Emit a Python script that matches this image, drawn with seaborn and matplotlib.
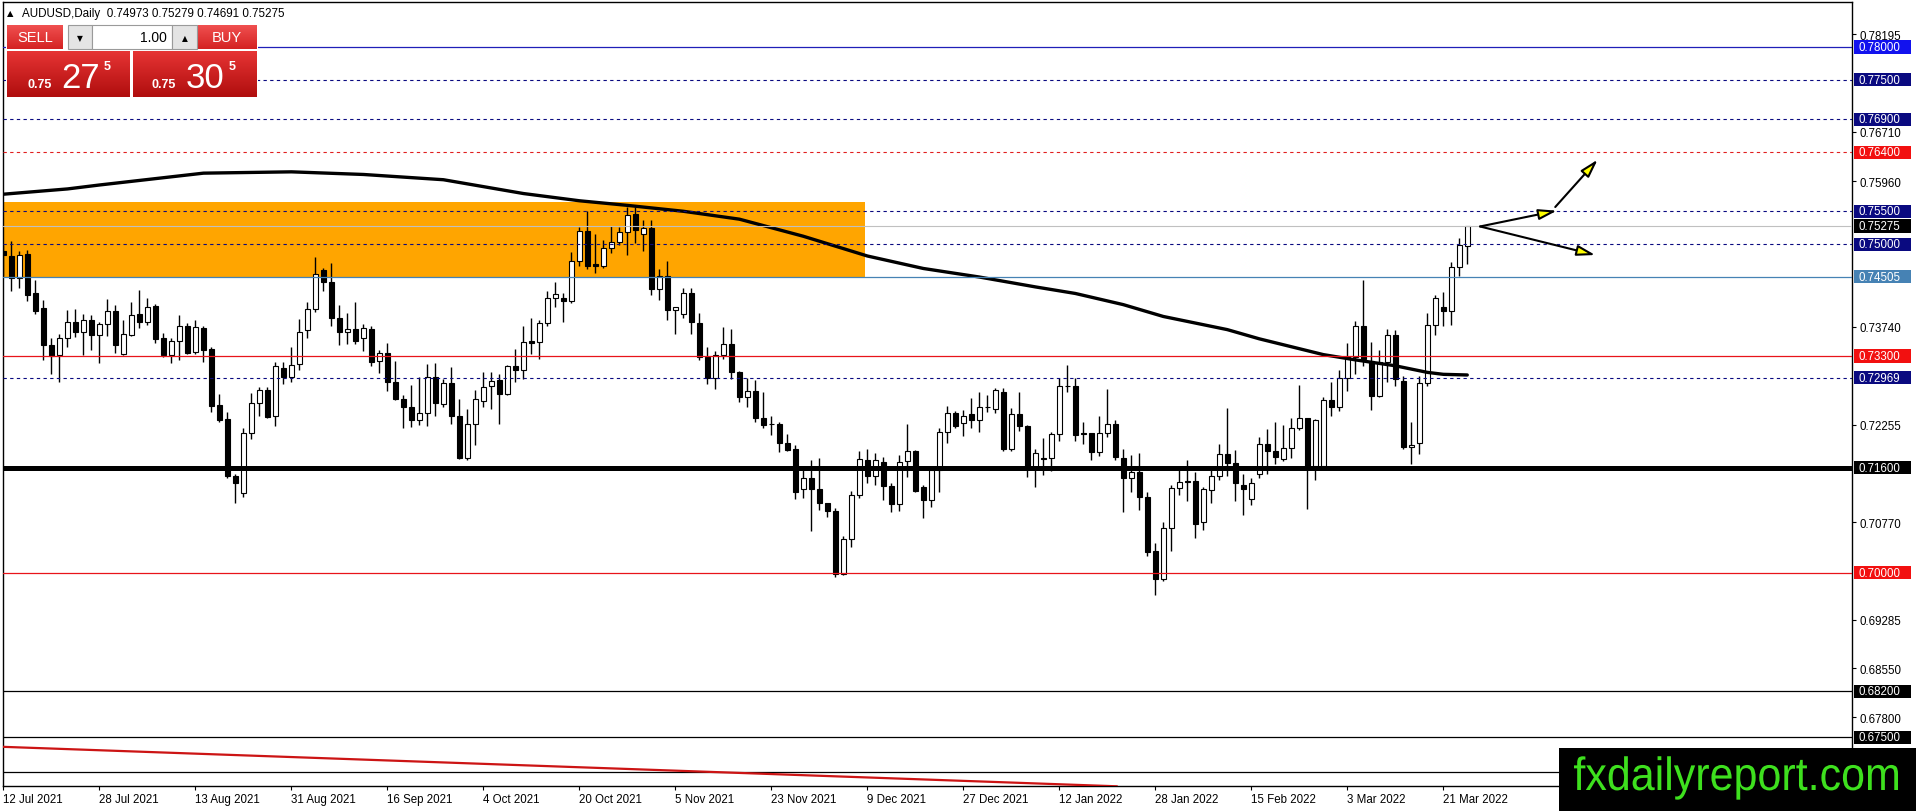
import matplotlib
matplotlib.use('Agg')
import matplotlib.pyplot as plt
import seaborn as sns
import numpy as np
import pandas as pd
from matplotlib.patches import Rectangle, PathPatch
from matplotlib import transforms, font_manager
from matplotlib.colors import LinearSegmentedColormap
from matplotlib.textpath import TextPath
from matplotlib.font_manager import FontProperties

# ---------------- data ----------------
opens = [0.7490,0.7482,0.7448,0.7485,0.7425,0.7403,0.7347,0.7331,0.7358,0.7382,
         0.7367,0.7384,0.7362,0.7378,0.7398,0.7333,0.7362,0.7393,0.7381,0.7406,
         0.7358,0.7332,0.7352,0.7376,0.7336,0.7372,0.7340,0.7255,0.7234,0.7147,
         0.7122,0.7212,0.7259,0.7278,0.7238,0.7311,0.7298,0.7317,0.7369,0.7401,
         0.7461,0.7442,0.7387,0.7367,0.7371,0.7357,0.7371,0.7322,0.7334,0.7291,
         0.7264,0.7253,0.7233,0.7243,0.7298,0.7257,0.7289,0.7239,0.7175,0.7227,
         0.7261,0.7284,0.7293,0.7272,0.7314,0.7308,0.7353,0.7351,0.7380,0.7418,
         0.7418,0.7414,0.7474,0.7520,0.7470,0.7467,0.7494,0.7504,0.7518,0.7546,
         0.7516,0.7525,0.7432,0.7451,0.7400,0.7393,0.7426,0.7380,0.7329,0.7297,
         0.7331,0.7348,0.7305,0.7267,0.7277,0.7235,0.7227,0.7227,0.7197,0.7189,
         0.7128,0.7144,0.7128,0.7106,0.7094,0.6998,0.7051,0.7119,0.7171,0.7148,
         0.7168,0.7132,0.7105,0.7170,0.7185,0.7130,0.7111,0.7156,0.7214,0.7243,
         0.7228,0.7241,0.7232,0.7253,0.7250,0.7275,0.7189,0.7241,0.7223,0.7161,
         0.7174,0.7174,0.7211,0.7285,0.7284,0.7212,0.7212,0.7184,0.7212,0.7227,
         0.7174,0.7145,0.7153,0.7115,0.7033,0.6991,0.7068,0.7129,0.7139,0.7139,
         0.7077,0.7126,0.7147,0.7181,0.7167,0.7134,0.7112,0.7151,0.7196,0.7186,
         0.7173,0.7190,0.7220,0.7235,0.7163,0.7162,0.7263,0.7252,0.7297,0.7329,
         0.7375,0.7323,0.7269,0.7321,0.7362,0.7292,0.7191,0.7197,0.7289,0.7377,
         0.7405,0.7398,0.7466,0.74973]
highs = [0.7498,0.7505,0.7490,0.7491,0.7445,0.7415,0.7357,0.7364,0.7400,0.7402,
         0.7393,0.7392,0.7382,0.7417,0.7408,0.7385,0.7412,0.7430,0.7418,0.7409,
         0.7365,0.7358,0.7392,0.7380,0.7384,0.7375,0.7343,0.7272,0.7244,0.7150,
         0.7221,0.7273,0.7283,0.7282,0.7320,0.7320,0.7343,0.7386,0.7412,0.7481,
         0.7464,0.7471,0.7407,0.7396,0.7412,0.7378,0.7376,0.7339,0.7349,0.7323,
         0.7270,0.7286,0.7298,0.7318,0.7319,0.7295,0.7313,0.7264,0.7249,0.7278,
         0.7305,0.7305,0.7303,0.7316,0.7341,0.7375,0.7387,0.7385,0.7429,0.7442,
         0.7425,0.7488,0.7526,0.7550,0.7515,0.7507,0.7528,0.7526,0.7557,0.7557,
         0.7536,0.7536,0.7462,0.7474,0.7405,0.7434,0.7434,0.7396,0.7343,0.7337,
         0.7374,0.7371,0.7307,0.7296,0.7293,0.7275,0.7238,0.7229,0.7211,0.7194,
         0.7161,0.7172,0.7174,0.7107,0.7099,0.7056,0.7125,0.7186,0.7188,0.7183,
         0.7177,0.7137,0.7179,0.7226,0.7187,0.7134,0.7161,0.7221,0.7254,0.7246,
         0.7247,0.7266,0.7275,0.7271,0.7281,0.7281,0.7251,0.7275,0.7225,0.7189,
         0.7205,0.7215,0.7296,0.7316,0.7296,0.7230,0.7213,0.7239,0.7280,0.7232,
         0.7189,0.7179,0.7183,0.7123,0.7046,0.7078,0.7133,0.7161,0.7171,0.7154,
         0.7130,0.7163,0.7196,0.7251,0.7187,0.7151,0.7144,0.7206,0.7219,0.7229,
         0.7225,0.7235,0.7286,0.7236,0.7234,0.7267,0.7291,0.7308,0.7349,0.7383,
         0.7445,0.7351,0.7339,0.7371,0.7370,0.7300,0.7229,0.7300,0.7395,0.7422,
         0.7427,0.7473,0.7510,0.75279]
lows = [0.7451,0.7429,0.7433,0.7413,0.7393,0.7324,0.7302,0.7291,0.7344,0.7359,
        0.7332,0.7339,0.7319,0.7361,0.7334,0.7331,0.7360,0.7372,0.7377,0.7349,
        0.7328,0.7319,0.7324,0.7333,0.7333,0.7321,0.7244,0.7230,0.7144,0.7107,
        0.7115,0.7204,0.7239,0.7236,0.7224,0.7287,0.7290,0.7309,0.7358,0.7397,
        0.7429,0.7376,0.7347,0.7348,0.7348,0.7338,0.7314,0.7304,0.7276,0.7263,
        0.7221,0.7222,0.7225,0.7224,0.7238,0.7252,0.7227,0.7173,0.7172,0.7194,
        0.7253,0.7250,0.7227,0.7270,0.7290,0.7295,0.7333,0.7326,0.7375,0.7405,
        0.7381,0.7410,0.7467,0.7462,0.7456,0.7464,0.7487,0.7498,0.7483,0.7501,
        0.7489,0.7422,0.7415,0.7385,0.7363,0.7388,0.7363,0.7324,0.7288,0.7280,
        0.7325,0.7295,0.7260,0.7252,0.7229,0.7221,0.7209,0.7184,0.7186,0.7113,
        0.7114,0.7064,0.7096,0.7085,0.6993,0.6996,0.7040,0.7114,0.7137,0.7134,
        0.7111,0.7092,0.7094,0.7146,0.7123,0.7083,0.7100,0.7123,0.7197,0.7220,
        0.7208,0.7220,0.7215,0.7244,0.7243,0.7186,0.7186,0.7216,0.7146,0.7131,
        0.7149,0.7155,0.7201,0.7275,0.7200,0.7196,0.7171,0.7178,0.7207,0.7172,
        0.7092,0.7123,0.7096,0.7026,0.6967,0.6988,0.7034,0.7119,0.7110,0.7053,
        0.7065,0.7107,0.7142,0.7148,0.7110,0.7088,0.7103,0.7145,0.7150,0.7166,
        0.7170,0.7174,0.7218,0.7097,0.7142,0.7161,0.7239,0.7246,0.7277,0.7303,
        0.7314,0.7247,0.7267,0.7290,0.7285,0.7188,0.7166,0.7181,0.7284,0.7362,
        0.7376,0.7377,0.7452,0.74691]
closes = [0.7483,0.7448,0.7484,0.7423,0.7399,0.7346,0.7330,0.7358,0.7381,0.7367,
          0.7384,0.7362,0.7379,0.7398,0.7346,0.7363,0.7392,0.7381,0.7405,0.7355,
          0.7332,0.7352,0.7375,0.7335,0.7374,0.7339,0.7254,0.7233,0.7147,0.7137,
          0.7212,0.7259,0.7278,0.7237,0.7314,0.7298,0.7316,0.7367,0.7401,0.7454,
          0.7442,0.7387,0.7367,0.7371,0.7353,0.7372,0.7321,0.7334,0.7291,0.7264,
          0.7253,0.7233,0.7243,0.7298,0.7258,0.7289,0.7239,0.7175,0.7227,0.7264,
          0.7283,0.7292,0.7272,0.7314,0.7309,0.7351,0.7349,0.7380,0.7418,0.7424,
          0.7414,0.7474,0.7520,0.7467,0.7467,0.7494,0.7504,0.7518,0.7545,0.7521,
          0.7525,0.7432,0.7451,0.7400,0.7404,0.7426,0.7381,0.7328,0.7297,0.7331,
          0.7348,0.7305,0.7267,0.7277,0.7235,0.7225,0.7226,0.7197,0.7187,0.7123,
          0.7144,0.7128,0.7106,0.7094,0.6998,0.7051,0.7119,0.7173,0.7148,0.7171,
          0.7132,0.7105,0.7169,0.7185,0.7124,0.7111,0.7156,0.7214,0.7243,0.7224,
          0.7239,0.7232,0.7253,0.7252,0.7278,0.7188,0.7241,0.7223,0.7161,0.7182,
          0.7173,0.7211,0.7285,0.7284,0.7210,0.7211,0.7184,0.7212,0.7227,0.7177,
          0.7145,0.7153,0.7115,0.7032,0.6990,0.7068,0.7129,0.7138,0.7138,0.7074,
          0.7127,0.7147,0.7181,0.7167,0.7136,0.7128,0.7137,0.7196,0.7186,0.7177,
          0.7190,0.7220,0.7235,0.7162,0.7233,0.7263,0.7252,0.7297,0.7329,0.7375,
          0.7325,0.7269,0.7321,0.7362,0.7295,0.7191,0.7195,0.7289,0.7377,0.7418,
          0.7398,0.7466,0.7499,0.75275]

date_labels = ['12 Jul 2021', '28 Jul 2021', '13 Aug 2021', '31 Aug 2021', '16 Sep 2021',
               '4 Oct 2021', '20 Oct 2021', '5 Nov 2021', '23 Nov 2021', '9 Dec 2021',
               '27 Dec 2021', '12 Jan 2022', '28 Jan 2022', '15 Feb 2022', '3 Mar 2022',
               '21 Mar 2022']

ma_bar = [0, 8, 12, 25, 36, 45, 55, 65, 72, 78, 85, 92, 100, 108, 115, 122, 129, 134,
          140, 145, 153, 157, 161, 165, 169, 174, 178, 180, 183]
ma_value = [0.7576, 0.7584, 0.7590, 0.7608, 0.7610, 0.7606, 0.7598, 0.7577, 0.7566,
            0.7559, 0.7550, 0.7538, 0.7512, 0.7482, 0.7463, 0.7450, 0.7435, 0.7425,
            0.7408, 0.7390, 0.7370, 0.7356, 0.7344, 0.7332, 0.7324, 0.7315, 0.7305,
            0.7302, 0.7301]

scale_ticks = [0.78195, 0.76710, 0.75960, 0.73740, 0.72255, 0.70770, 0.69285, 0.68550,
               0.67800]
scale_labels = ['0.78195', '0.76710', '0.75960', '0.73740', '0.72255', '0.70770', '0.69285',
                '0.68550', '0.67800']

level_values = [0.78000, 0.77500, 0.76900, 0.76400, 0.75500, 0.75275, 0.75000, 0.74505,
                0.73300, 0.72969, 0.71600, 0.70000, 0.68200, 0.67500]
level_labels = ['0.78000', '0.77500', '0.76900', '0.76400', '0.75500', '0.75275', '0.75000',
                '0.74505', '0.73300', '0.72969', '0.71600', '0.70000', '0.68200', '0.67500']
extra_level = 0.66967

zone_low, zone_high = 0.74505, 0.75637
zone_end_bar = 107.7

trend_bars = [-0.1, 139.3]
trend_vals = [0.67354, 0.66753]

arrow_up1 = [(184.6, 0.75269), (194.2, 0.75509)]
arrow_up2 = [(194.0, 0.75565), (199.3, 0.76285)]
arrow_dn = [(184.6, 0.75269), (199.0, 0.74835)]

title_text = 'AUDUSD,Daily  0.74973 0.75279 0.74691 0.75275'
watermark = 'fxdailyreport.com'

# ---------------- styles ----------------
NAVY = '#0a0a80'
RED = '#e8141a'
DASH = (0, (3, 3))
level_style = {
    0.78000: dict(color='#1f1fb8', ls='-', lw=0.9, box='#1212ee'),
    0.77500: dict(color=NAVY, ls=DASH, lw=0.8, box=NAVY),
    0.76900: dict(color=NAVY, ls=DASH, lw=0.8, box=NAVY),
    0.76400: dict(color='#e02020', ls=DASH, lw=0.8, box='#f21010'),
    0.75500: dict(color=NAVY, ls=DASH, lw=0.8, box=NAVY),
    0.75275: dict(color='#c0c0c0', ls='-', lw=0.8, box='#000000'),
    0.75000: dict(color=NAVY, ls=DASH, lw=0.8, box=NAVY),
    0.74505: dict(color='#4682b4', ls='-', lw=0.9, box='#4682b4'),
    0.73300: dict(color=RED, ls='-', lw=0.9, box='#f21010'),
    0.72969: dict(color=NAVY, ls=DASH, lw=0.8, box=NAVY),
    0.71600: dict(color='#000000', ls='-', lw=3.6, box='#000000'),
    0.70000: dict(color=RED, ls='-', lw=0.9, box='#f21010'),
    0.68200: dict(color='#000000', ls='-', lw=0.9, box='#000000'),
    0.67500: dict(color='#000000', ls='-', lw=0.9, box='#000000'),
}

sns.set_style('white')
names = {f.name for f in font_manager.fontManager.ttflist}
BASE = 'Liberation Sans' if 'Liberation Sans' in names else 'DejaVu Sans'
plt.rcParams['font.family'] = [BASE, 'DejaVu Sans']

W, H = 1916, 812
fig = plt.figure(figsize=(W / 100, H / 100), dpi=100)
fig.patch.set_facecolor('white')
ax_l, ax_r, ax_t, ax_b = 2.7, 1852, 2.7, 787
ax = fig.add_axes([ax_l / W, 1 - ax_b / H, (ax_r - ax_l) / W, (ax_b - ax_t) / H])
ax.set_facecolor('white')
aw = ax_r - ax_l

ax.set_xlim(-0.1, 231.1)
ax.set_ylim(0.66758, 0.78688)

df = pd.DataFrame({'o': opens, 'h': highs, 'l': lows, 'c': closes})
df['i'] = np.arange(len(df))

# zone rectangle
ax.add_patch(Rectangle((-1, zone_low), zone_end_bar + 1, zone_high - zone_low,
                       facecolor='#ffa500', edgecolor='none', zorder=1))

# candles
ax.vlines(df['i'], df['l'], df['h'], color='black', lw=1.0, zorder=3)
bull = df['c'] >= df['o']
bottoms = np.minimum(df['o'], df['c'])
heights = np.maximum(np.abs(df['c'] - df['o']), 0.00003)
ax.bar(df['i'][bull], heights[bull], bottom=bottoms[bull], width=0.62,
       color='white', edgecolor='black', linewidth=0.8, zorder=3.5)
ax.bar(df['i'][~bull], heights[~bull], bottom=bottoms[~bull], width=0.62,
       color='black', edgecolor='black', linewidth=0.8, zorder=3.5)

# moving average
sns.lineplot(x=ma_bar, y=ma_value, color='black', lw=2.4, ax=ax, zorder=4,
             sort=False, legend=False)

# horizontal levels
for v in level_values:
    st = level_style[v]
    ax.axhline(v, color=st['color'], ls=st['ls'], lw=st['lw'], zorder=5)
ax.axhline(extra_level, color='black', lw=0.9, zorder=5)

# trendline
ax.plot(trend_bars, trend_vals, color='#cc1414', lw=1.6, zorder=5, solid_capstyle='butt')

# arrows
for (a, b) in (arrow_up1, arrow_up2, arrow_dn):
    ax.annotate('', xy=b, xytext=a,
                arrowprops=dict(arrowstyle='-|>,head_length=1.1,head_width=0.32',
                                lw=1.5, facecolor='#ffff00', edgecolor='black',
                                shrinkA=0, shrinkB=0), zorder=7)

# axes styling
for s in ax.spines.values():
    s.set_color('black')
    s.set_linewidth(1.0)
    s.set_visible(True)
ax.yaxis.tick_right()
ax.set_yticks(scale_ticks)
ax.set_yticklabels(scale_labels)
ax.set_xticks(range(0, 12 * len(date_labels), 12))
ax.set_xticklabels(date_labels, ha='left')
ax.tick_params(axis='y', direction='out', length=3, width=0.8, pad=2.5,
               labelsize=8.3, colors='black', right=True, left=False)
ax.tick_params(axis='x', direction='out', length=3, width=0.8, pad=2,
               labelsize=8.3, colors='black', bottom=True)
ax.grid(False)
ax.set_xlabel('')
ax.set_ylabel('')

# price label boxes
blend = transforms.blended_transform_factory(ax.transAxes, ax.transData)
hh = 6.6 / 6574
for v, lab in zip(level_values, level_labels):
    st = level_style[v]
    ax.add_patch(Rectangle((1 + 2 / aw, v - hh), 57 / aw, 2 * hh, transform=blend,
                           facecolor=st['box'], edgecolor='none', clip_on=False, zorder=10))
    ax.text(1 + 6.5 / aw, v, lab, transform=blend, color='white', fontsize=8.3,
            va='center', ha='left', clip_on=False, zorder=11)

# ---------------- figure-level decorations ----------------
def R(x0, y0, x1, y1, z, **kw):
    r = Rectangle((x0 / W, 1 - y1 / H), (x1 - x0) / W, (y1 - y0) / H,
                  transform=fig.transFigure, zorder=z, **kw)
    fig.add_artist(r)
    return r

def grad(x0, y0, x1, y1, c_top, c_bot):
    gax = fig.add_axes([x0 / W, 1 - y1 / H, (x1 - x0) / W, (y1 - y0) / H])
    cmap = LinearSegmentedColormap.from_list('g', [c_top, c_bot])
    gax.imshow(np.linspace(0, 1, 64).reshape(-1, 1), aspect='auto', cmap=cmap,
               extent=(0, 1, 0, 1), origin='upper', interpolation='bilinear')
    gax.set_axis_off()
    gax.set_zorder(3)
    return gax

def T(x, y, s, **kw):
    kw.setdefault('zorder', 6)
    fig.text(x / W, 1 - y / H, s, **kw)

# title
T(7, 16.5, '\u25B2', fontsize=6, color='black', va='baseline', family=['DejaVu Sans'])
T(21.5, 16.5, title_text, fontsize=8.4, color='black', va='baseline')

# trade panel
R(6, 25, 258, 99, 2, facecolor='white', edgecolor='none')
grad(7, 26, 63, 50, '#f05050', '#d42222')
grad(197, 26, 257, 50, '#f05050', '#d42222')
grad(7, 52, 130, 98, '#e63434', '#b00e0e')
grad(133, 52, 257, 98, '#e63434', '#b00e0e')
R(68, 26, 92, 50, 4, facecolor='#e4e4e4', edgecolor='#9a9a9a', lw=0.8)
R(92, 26, 172, 50, 4, facecolor='white', edgecolor='#9a9a9a', lw=0.8)
R(172, 26, 197, 50, 4, facecolor='#e4e4e4', edgecolor='#9a9a9a', lw=0.8)
T(35, 38.5, 'SELL', fontsize=10.5, color='white', ha='center', va='center')
T(227, 38.5, 'BUY', fontsize=10.5, color='white', ha='center', va='center')
T(167, 38.5, '1.00', fontsize=10, color='black', ha='right', va='center')
T(80, 38.5, '\u25BC', fontsize=5.5, color='black', ha='center', va='center', family=['DejaVu Sans'])
T(184.5, 38.5, '\u25B2', fontsize=5.5, color='black', ha='center', va='center', family=['DejaVu Sans'])
T(27, 87.5, '0.75', fontsize=9, fontweight='bold', color='white', va='baseline')
T(61, 87.5, '27', fontsize=25, color='white', va='baseline')
T(104, 61, '5', fontsize=9, fontweight='bold', color='white', va='top')
T(151, 87.5, '0.75', fontsize=9, fontweight='bold', color='white', va='baseline')
T(186, 87.5, '30', fontsize=25, color='white', va='baseline')
T(229, 61, '5', fontsize=9, fontweight='bold', color='white', va='top')

# watermark (text outline scaled to the reference's condensed lettering)
R(1559, 749, W, H, 20, facecolor='black', edgecolor='none')
tp = TextPath((0, 0), watermark, size=1, prop=FontProperties(family=BASE))
ext = tp.get_extents()
tw, asc = 324.0, 46.6
sx = tw / ext.width
tr = (transforms.Affine2D().translate(-ext.x0, 0).scale(sx / W, asc / H)
      .translate(1574 / W, (H - 791) / H) + fig.transFigure)
wm = PathPatch(tp, facecolor='#3ee01e', edgecolor='none', transform=tr, zorder=21)
fig.add_artist(wm)

fig.savefig('out.png', dpi=100, facecolor='white')
